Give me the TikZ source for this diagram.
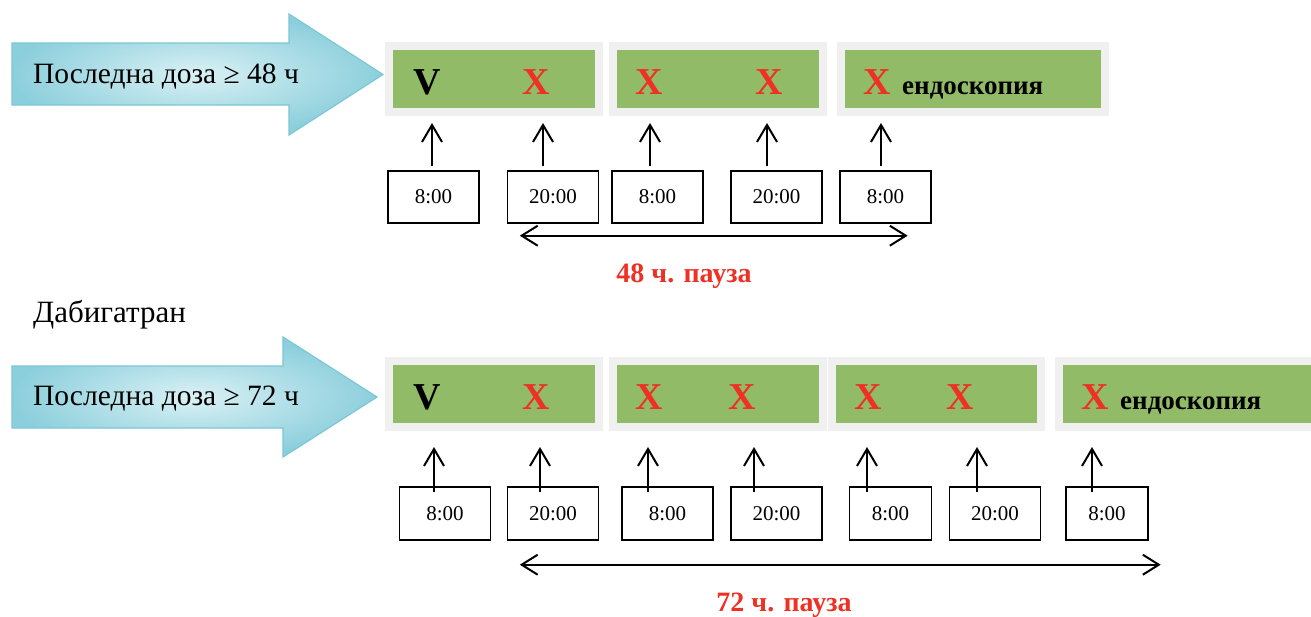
\documentclass[tikz,border=0pt]{standalone}
\usepackage{fontspec}
\setmainfont{Liberation Serif}
\usetikzlibrary{arrows.meta,calc}

\definecolor{daygreen}{HTML}{92BB67}
\definecolor{framegray}{HTML}{F0F0F0}
\definecolor{markred}{HTML}{EE3124}
\definecolor{glowlight}{HTML}{DAF1F5}
\definecolor{glowdark}{HTML}{8CCFDC}
\definecolor{glowedge}{HTML}{7CC7D6}

\begin{document}
\begin{tikzpicture}[x=1pt,y=-1pt,
  daybox/.style={draw=framegray, line width=8pt, fill=daygreen,
    minimum height=66pt, inner sep=0pt},
  timebox/.style={draw, line width=1.4pt, minimum width=91pt,
    minimum height=52pt, inner sep=0pt, font=\fontsize{21}{21}\selectfont},
  xmark/.style={anchor=base, inner sep=0pt, text=markred,
    font=\fontsize{38}{38}\selectfont\bfseries},
  okmark/.style={xmark, text=black},
  procname/.style={anchor=base west, inner sep=0pt,
    font=\fontsize{27}{27}\selectfont\bfseries},
  doselabel/.style={anchor=base west, inner sep=0pt,
    font=\fontsize{29.5}{29.5}\selectfont},
  drugname/.style={anchor=base west, inner sep=0pt,
    font=\fontsize{31}{31}\selectfont},
  pause/.style={anchor=base, inner sep=0pt, text=markred,
    font=\fontsize{28}{28}\selectfont\bfseries},
  dosearrow/.style={draw=glowedge, line width=1.2pt, line join=miter,
    inner color=glowlight, outer color=glowdark},
  rise/.style={line width=2pt, -{Straight Barb[length=17pt,width=20pt]}},
  span/.style={line width=2pt,
    {Straight Barb[length=16pt,width=20pt]}-{Straight Barb[length=16pt,width=20pt]}}
]
\clip (0,0) rectangle (1311,616);
\fill[white] (0,0) rectangle (1311,616);

% ---------- first schedule: last dose >= 48 h ----------
\path[dosearrow] (12,43) -- (289,43) -- (289,14) -- (383,74.5)
  -- (289,135) -- (289,105) -- (12,105) -- cycle;
\node[doselabel] (d1) at (33,83) {Последна доза ≥ 48 ч};

\node[daybox, minimum width=210pt] (a1) at (494,79) {};
\node[daybox, minimum width=210pt] (a2) at (718,79) {};
\node[daybox, minimum width=264pt] (a3) at (973,79) {};

\node[okmark] (m11) at (427,94) {V};
\node[xmark]  (m12) at (536,94) {X};
\node[xmark]  (m13) at (649,94) {X};
\node[xmark]  (m14) at (769,94) {X};
\node[xmark]  (m15) at (877,94) {X};
\node[procname] (e1) at (902,94) {ендоскопия};

\node[timebox] (t1) at (433.5,197) {8:00};
\node[timebox] (t2) at (553,197)   {20:00};
\node[timebox] (t3) at (657.5,197) {8:00};
\node[timebox] (t4) at (776.5,197) {20:00};
\node[timebox] (t5) at (885.5,197) {8:00};

\draw[rise] ($(t1.north)+(-1.5,-4)$)  -- ($(t1.north |- a1.south)+(-1.5,7)$);
\draw[rise] ($(t2.north)+(-10,-4)$)   -- ($(t2.north |- a1.south)+(-10,7)$);
\draw[rise] ($(t3.north)+(-7.5,-4)$)  -- ($(t3.north |- a2.south)+(-7.5,7)$);
\draw[rise] ($(t4.north)+(-9.5,-4)$)  -- ($(t4.north |- a2.south)+(-9.5,7)$);
\draw[rise] ($(t5.north)+(-4.5,-4)$)  -- ($(t5.north |- a3.south)+(-4.5,7)$);

\coordinate (s1l) at ($(t2.south west)+(13,12)$);
\coordinate (s1r) at ($(t5.south east)+(-24,12)$);
\draw[span] (s1l) -- (s1r);
\node[pause] (p1) at (684,282) {48 ч. пауза};

% ---------- second schedule: dabigatran, last dose >= 72 h ----------
\node[drugname] (dab) at (33,322) {Дабигатран};

\path[dosearrow] (12,366) -- (283,366) -- (283,337) -- (377,397)
  -- (283,457) -- (283,428) -- (12,428) -- cycle;
\node[doselabel] (d2) at (33,405) {Последна доза ≥ 72 ч};

\node[daybox, minimum width=210pt] (b1) at (494,394) {};
\node[daybox, minimum width=210pt] (b2) at (718,394) {};
\node[daybox, minimum width=209pt] (b3) at (936.5,394) {};
\node[daybox, minimum width=277pt] (b4) at (1197.5,394) {};

\node[okmark] (m21) at (427,409) {V};
\node[xmark]  (m22) at (536,409) {X};
\node[xmark]  (m23) at (649,409) {X};
\node[xmark]  (m24) at (742,409) {X};
\node[xmark]  (m25) at (868,409) {X};
\node[xmark]  (m26) at (960,409) {X};
\node[xmark]  (m27) at (1095,409) {X};
\node[procname] (e2) at (1120,409) {ендоскопия};

\node[timebox, minimum height=53pt] (u1) at (445,513.5)   {8:00};
\node[timebox, minimum height=53pt] (u2) at (553,513.5)   {20:00};
\node[timebox, minimum height=53pt] (u3) at (667.5,513.5) {8:00};
\node[timebox, minimum height=53pt] (u4) at (776.5,513.5) {20:00};
\node[timebox, minimum height=53pt, minimum width=82pt] (u5) at (890.5,513.5) {8:00};
\node[timebox, minimum height=53pt] (u6) at (995,513.5)   {20:00};
\node[timebox, minimum height=53pt, minimum width=82pt] (u7) at (1107,513.5)  {8:00};

\draw[rise] ($(u1.north)+(-11,6)$)   -- ($(u1.north |- b1.south)+(-11,16)$);
\draw[rise] ($(u2.north)+(-13,6)$)   -- ($(u2.north |- b1.south)+(-13,16)$);
\draw[rise] ($(u3.north)+(-19.5,6)$) -- ($(u3.north |- b2.south)+(-19.5,16)$);
\draw[rise] ($(u4.north)+(-22.5,6)$) -- ($(u4.north |- b2.south)+(-22.5,16)$);
\draw[rise] ($(u5.north)+(-23.5,6)$) -- ($(u5.north |- b3.south)+(-23.5,16)$);
\draw[rise] ($(u6.north)+(-18,6)$)   -- ($(u6.north |- b3.south)+(-18,16)$);
\draw[rise] ($(u7.north)+(-15,6)$)   -- ($(u7.north |- b4.south)+(-15,16)$);

\coordinate (s2l) at ($(u2.south west)+(13,24)$);
\coordinate (s2r) at ($(u7.south east)+(12,24)$);
\draw[span] (s2l) -- (s2r);
\node[pause] (p2) at (784,611) {72 ч. пауза};
\end{tikzpicture}
\end{document}
